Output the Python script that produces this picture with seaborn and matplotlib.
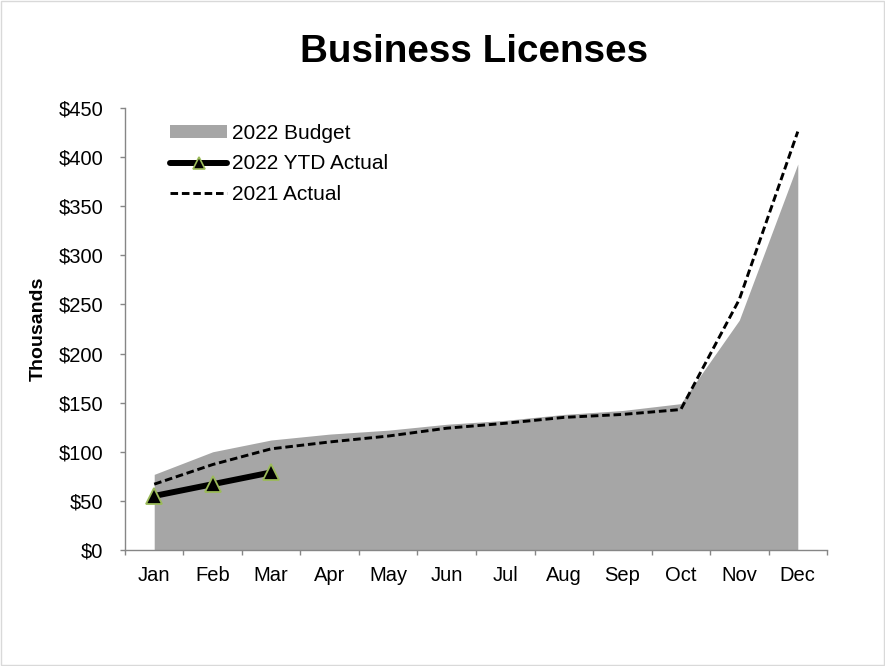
import matplotlib
matplotlib.use("Agg")
import matplotlib.pyplot as plt
from matplotlib.patches import Patch, Rectangle
from matplotlib.lines import Line2D
from matplotlib.ticker import FuncFormatter, FixedLocator
import seaborn as sns
import pandas as pd
import numpy as np

months = ["Jan", "Feb", "Mar", "Apr", "May", "Jun",
          "Jul", "Aug", "Sep", "Oct", "Nov", "Dec"]
budget_2022 = [77, 100, 112, 118, 122, 128, 132, 138, 142, 149, 234, 393]
actual_2021 = [67, 87, 103, 110, 116, 124, 129, 135, 138, 143, 255, 426]
ytd_2022 = [55, 67, 79]

sns.set_style("white")
plt.rcParams["font.family"] = ["Liberation Sans", "DejaVu Sans"]
plt.rcParams["text.color"] = "black"
plt.rcParams["axes.labelcolor"] = "black"
plt.rcParams["xtick.color"] = "black"
plt.rcParams["ytick.color"] = "black"

fig = plt.figure(figsize=(8.85, 6.66), dpi=100)
ax = fig.add_axes([0.1412, 0.1742, 0.7933, 0.6636])

x = np.arange(len(months))
fill_color = "#a6a6a6"
edge_green = "#9bbb59"
dash = (0, (2.6, 1.3))
tick_fs = 14.5
leg_fs = 15

# Budget as a filled area
ax.fill_between(x, 0, budget_2022, color=fill_color, linewidth=0, zorder=1)

df21 = pd.DataFrame({"pos": x, "value": actual_2021})
sns.lineplot(data=df21, x="pos", y="value", ax=ax, color="black",
             linewidth=2.1, linestyle=dash, zorder=3)

dfytd = pd.DataFrame({"pos": x[:len(ytd_2022)], "value": ytd_2022})
sns.lineplot(data=dfytd, x="pos", y="value", ax=ax, color="black",
             linewidth=4.3, marker="^", markersize=12,
             markerfacecolor="black", markeredgecolor=edge_green,
             markeredgewidth=1.3, zorder=4)

ax.set_xlim(-0.5, 11.5)
ax.set_ylim(0, 450)
ax.set_yticks(np.arange(0, 451, 50))
ax.yaxis.set_major_formatter(FuncFormatter(lambda v, p: f"${v:,.0f}"))

ax.set_xticks(x)
ax.set_xticklabels(months)
ax.xaxis.set_minor_locator(FixedLocator(np.arange(-0.5, 12, 1)))
ax.tick_params(axis="x", which="major", length=0, pad=11.5, labelsize=tick_fs)
ax.tick_params(axis="x", which="minor", length=3.8, width=1, color="#868686",
               direction="out", bottom=True)
ax.tick_params(axis="y", length=3.8, width=1, color="#868686", direction="out",
               left=True, labelsize=tick_fs, pad=12)

ax.set_xlabel("")
ax.set_ylabel("Thousands", fontsize=14, fontweight="bold", labelpad=8)

for side in ("top", "right"):
    ax.spines[side].set_visible(False)
for side in ("left", "bottom"):
    ax.spines[side].set_color("#868686")
    ax.spines[side].set_linewidth(1)

fig.text(0.5356, 1 - 62 / 666, "Business Licenses", fontsize=27.8,
         fontweight="bold", ha="center", va="baseline")

handles = [
    Patch(facecolor=fill_color, edgecolor="none"),
    Line2D([], [], color="black", linewidth=4.3, marker="^", markersize=9,
           markerfacecolor="black", markeredgecolor=edge_green,
           markeredgewidth=1.2),
    Line2D([], [], color="black", linewidth=2.1, linestyle=dash),
]
labels = ["2022 Budget", "2022 YTD Actual", "2021 Actual"]
leg = ax.legend(handles, labels, loc="upper left",
                bbox_to_anchor=(0.064, 0.9638), borderaxespad=0, borderpad=0,
                frameon=False, fontsize=leg_fs, handlelength=2.75,
                handleheight=0.55, handletextpad=0.22, labelspacing=0.55)

# Thin outline round the whole figure
fig.patches.append(Rectangle((0.001, 0.001), 0.998, 0.997,
                             transform=fig.transFigure, fill=False,
                             edgecolor="#d9d9d9", linewidth=1))

fig.savefig("out.png", dpi=100)
